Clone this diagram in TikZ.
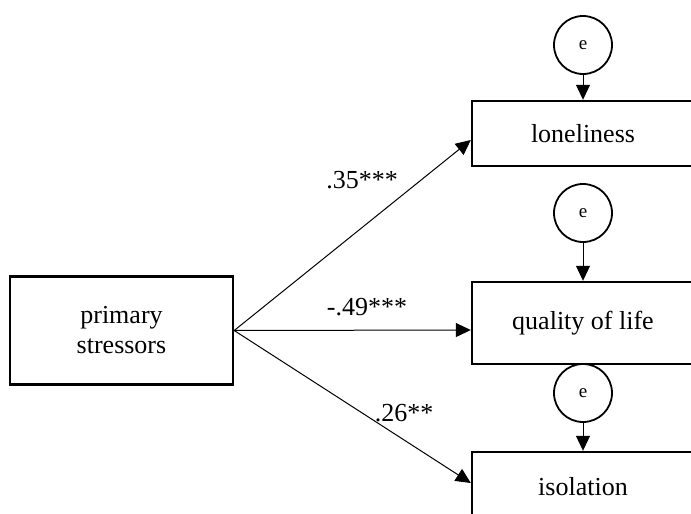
\documentclass[tikz,border=0pt]{standalone}
\usepackage{fontspec}
\setmainfont{Liberation Serif}
\usepackage{tikz}
\usetikzlibrary{arrows.meta}

\begin{document}
\begin{tikzpicture}[x=0.5pt,y=-0.5pt,
  var/.style={draw,line width=1.2pt,inner sep=0pt,align=center,
    font=\fontsize{13}{15}\selectfont},
  err/.style={draw,circle,line width=0.9pt,minimum size=29pt,inner sep=0pt,
    font=\fontsize{9.5}{11}\selectfont},
  path/.style={line width=0.5pt,-{Triangle[length=7.5pt,width=7pt]}},
  coef/.style={font=\fontsize{13}{15}\selectfont}]
\useasboundingbox (0,0) rectangle (691,514);
\clip (0,0) rectangle (691,514);
% predictor
\node[var,minimum width=111.5pt,minimum height=54pt] (stress) at (121.5,330.5) {primary\\stressors};
% outcomes
\node[var,minimum width=111pt,minimum height=32.5pt] (lone) at (583,133.5) {loneliness};
\node[var,minimum width=111pt,minimum height=41pt] (qol) at (583,323) {quality of life};
\node[var,minimum width=111pt,minimum height=35pt] (iso) at (583,487) {isolation};
% residuals
\node[err] (e1) at (583,45) {e};
\node[err] (e2) at (583,213) {e};
\node[err] (e3) at (583,393) {e};
\draw[path] (e1) -- (lone);
\draw[path] (e2) -- (qol);
\draw[path] (e3) -- (iso);
% paths
\draw[path] (stress.east) -- ([yshift=-3.25pt]lone.west);
\draw[path] (stress.east) -- ([yshift=-3.5pt]qol.west);
\draw[path] (stress.east) -- ([yshift=2pt]iso.west);
\node[coef] (c1) at (362,180) {.35***};
\node[coef] (c2) at (367,307) {-.49***};
\node[coef] (c3) at (404,413) {.26**};
\end{tikzpicture}
\end{document}
